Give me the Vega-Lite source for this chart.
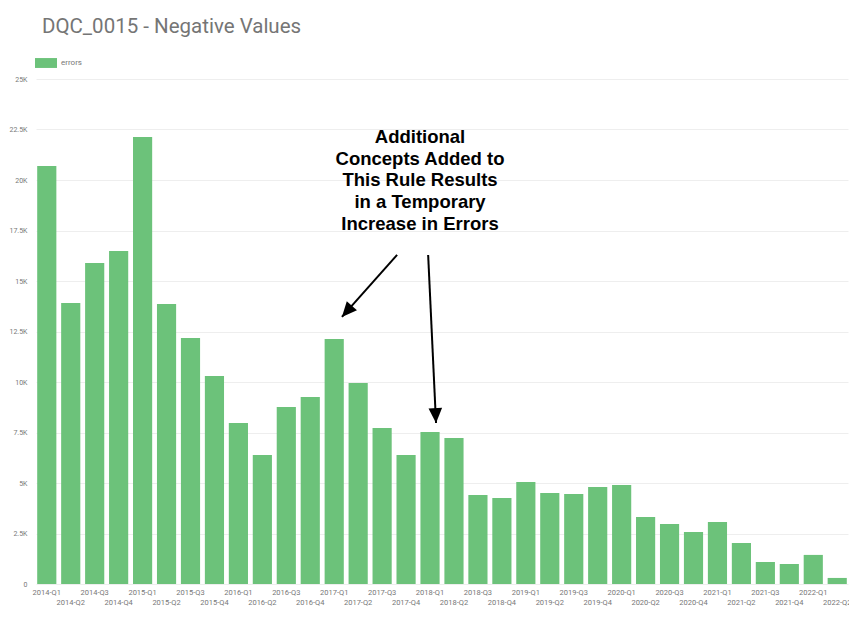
{
  "$schema": "https://vega.github.io/schema/vega-lite/v6.json",
  "autosize": {"type": "none"},
  "width": 812,
  "height": 505,
  "padding": {"left": 36, "top": 79, "right": 1, "bottom": 34},
  "background": "white",
  "title": {
    "text": "DQC_0015 - Negative Values",
    "anchor": "start",
    "font": "Roboto",
    "fontSize": 20.5,
    "fontWeight": "normal",
    "color": "#757575",
    "offset": 15,
    "dx": 33
  },
  "config": {"view": {"stroke": null}},
  "datasets": {
    "bars": [
      {"quarter": "2014-Q1", "errors": 20690},
      {"quarter": "2014-Q2", "errors": 13910},
      {"quarter": "2014-Q3", "errors": 15890},
      {"quarter": "2014-Q4", "errors": 16490},
      {"quarter": "2015-Q1", "errors": 22130},
      {"quarter": "2015-Q2", "errors": 13860},
      {"quarter": "2015-Q3", "errors": 12180},
      {"quarter": "2015-Q4", "errors": 10300},
      {"quarter": "2016-Q1", "errors": 7970},
      {"quarter": "2016-Q2", "errors": 6390},
      {"quarter": "2016-Q3", "errors": 8760},
      {"quarter": "2016-Q4", "errors": 9260},
      {"quarter": "2017-Q1", "errors": 12130},
      {"quarter": "2017-Q2", "errors": 9950},
      {"quarter": "2017-Q3", "errors": 7720},
      {"quarter": "2017-Q4", "errors": 6390},
      {"quarter": "2018-Q1", "errors": 7520},
      {"quarter": "2018-Q2", "errors": 7230},
      {"quarter": "2018-Q3", "errors": 4410},
      {"quarter": "2018-Q4", "errors": 4260},
      {"quarter": "2019-Q1", "errors": 5050},
      {"quarter": "2019-Q2", "errors": 4500},
      {"quarter": "2019-Q3", "errors": 4460},
      {"quarter": "2019-Q4", "errors": 4800},
      {"quarter": "2020-Q1", "errors": 4900},
      {"quarter": "2020-Q2", "errors": 3320},
      {"quarter": "2020-Q3", "errors": 2970},
      {"quarter": "2020-Q4", "errors": 2570},
      {"quarter": "2021-Q1", "errors": 3070},
      {"quarter": "2021-Q2", "errors": 2030},
      {"quarter": "2021-Q3", "errors": 1090},
      {"quarter": "2021-Q4", "errors": 990},
      {"quarter": "2022-Q1", "errors": 1440},
      {"quarter": "2022-Q2", "errors": 300}
    ],
    "arrows": [
      {"id": "a1", "x1": 15.12, "y1": 16290, "x2": 12.81, "y2": 13220},
      {"id": "a2", "x1": 16.42, "y1": 16290, "x2": 16.75, "y2": 7970}
    ],
    "note": [
      {"pos": 16.08, "v": 22130, "label": "Additional\nConcepts Added to\nThis Rule Results\nin a Temporary\nIncrease in Errors"}
    ]
  },
  "resolve": {"scale": {"x": "independent"}, "axis": {"x": "independent"}},
  "layer": [
    {
      "data": {"name": "bars"},
      "mark": {"type": "bar"},
      "encoding": {
        "x": {
          "field": "quarter",
          "type": "nominal",
          "sort": null,
          "scale": {"paddingInner": 0.2, "paddingOuter": 0.05},
          "axis": {
            "title": null,
            "labelAngle": 0,
            "labelFont": "Roboto",
            "labelFontSize": 7.5,
            "labelColor": "#777777",
            "labelPadding": {"condition": {"test": "datum.value[6] == '2' || datum.value[6] == '4'", "value": 14}, "value": 4},
            "labelOverlap": false,
            "ticks": false,
            "domain": false,
            "grid": false
          }
        },
        "y": {
          "field": "errors",
          "type": "quantitative",
          "scale": {"domain": [0, 25000], "nice": false},
          "axis": {
            "title": null,
            "values": [0, 2500, 5000, 7500, 10000, 12500, 15000, 17500, 20000, 22500, 25000],
            "labelExpr": "datum.value == 0 ? '0' : (datum.value / 1000) + 'K'",
            "labelFont": "Roboto",
            "labelFontSize": 7,
            "labelColor": "#777777",
            "labelPadding": 9,
            "ticks": false,
            "domain": false,
            "grid": true,
            "gridColor": "#eeeeee",
            "gridWidth": 1
          }
        },
        "color": {
          "datum": "errors",
          "type": "nominal",
          "scale": {"range": ["#6cc27a"]},
          "legend": {
            "title": null,
            "orient": "none",
            "legendX": -1,
            "legendY": -27,
            "padding": 0,
            "symbolType": "M-1,-0.45L1,-0.45L1,0.45L-1,0.45Z",
            "symbolSize": 484,
            "symbolStrokeWidth": 0,
            "symbolOpacity": 1,
            "labelFont": "Roboto",
            "labelFontSize": 8,
            "labelColor": "#777777",
            "labelOffset": 4
          }
        }
      }
    },
    {
      "data": {"name": "arrows"},
      "mark": {"type": "rule", "color": "black", "strokeWidth": 2},
      "encoding": {
        "x": {"field": "x1", "type": "quantitative", "scale": {"domain": [0, 34], "nice": false, "zero": false}, "axis": null},
        "x2": {"field": "x2"},
        "y": {"field": "y1", "type": "quantitative"},
        "y2": {"field": "y2"}
      }
    },
    {
      "data": {"name": "arrows"},
      "transform": [{"filter": "datum.id == 'a1'"}],
      "mark": {"type": "point", "shape": "M0,0L-0.5,1.1L0.5,1.1Z", "filled": true, "color": "black", "opacity": 1, "size": 740, "angle": 221.6},
      "encoding": {
        "x": {"field": "x2", "type": "quantitative", "scale": {"domain": [0, 34], "nice": false, "zero": false}, "axis": null},
        "y": {"field": "y2", "type": "quantitative"}
      }
    },
    {
      "data": {"name": "arrows"},
      "transform": [{"filter": "datum.id == 'a2'"}],
      "mark": {"type": "point", "shape": "M0,0L-0.5,1.1L0.5,1.1Z", "filled": true, "color": "black", "opacity": 1, "size": 740, "angle": 177.3},
      "encoding": {
        "x": {"field": "x2", "type": "quantitative", "scale": {"domain": [0, 34], "nice": false, "zero": false}, "axis": null},
        "y": {"field": "y2", "type": "quantitative"}
      }
    },
    {
      "data": {"name": "note"},
      "mark": {"type": "text", "font": "Liberation Sans", "fontWeight": "bold", "fontSize": 18.5, "lineHeight": 21.7, "align": "center", "baseline": "middle", "color": "black", "lineBreak": "\n"},
      "encoding": {
        "x": {"field": "pos", "type": "quantitative", "scale": {"domain": [0, 34], "nice": false, "zero": false}, "axis": null},
        "y": {"field": "v", "type": "quantitative"},
        "text": {"field": "label"}
      }
    }
  ]
}
